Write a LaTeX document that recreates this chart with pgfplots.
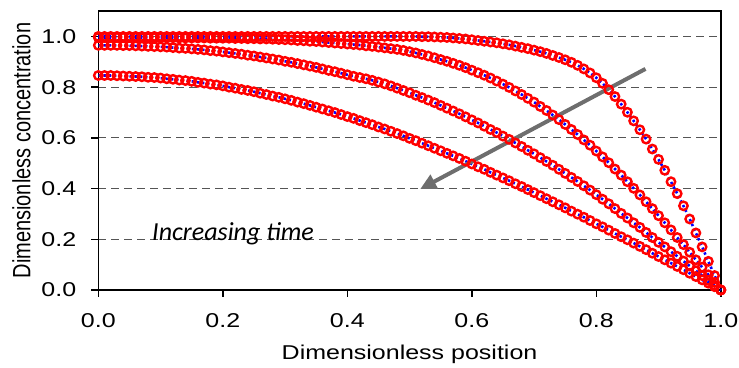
\documentclass[border=0pt]{standalone}
\usepackage{pgfplots}
\pgfplotsset{compat=1.18}
\usepackage{pgfplotstable}
\usepackage{fontspec}
\setmainfont{Liberation Sans}
\newfontfamily\carlito{Carlito}
\usetikzlibrary{arrows.meta}
\definecolor{arrowgray}{RGB}{110,110,110}
\definecolor{gridgray}{RGB}{85,85,85}

\pgfplotstableread{
x c1 c2 c3 c4
0.00 1.000 0.996 0.965 0.846
0.01 1.000 0.996 0.965 0.846
0.02 1.000 0.996 0.965 0.846
0.03 1.000 0.996 0.965 0.845
0.04 1.000 0.996 0.964 0.844
0.05 1.000 0.996 0.964 0.843
0.06 1.000 0.996 0.963 0.842
0.07 1.000 0.995 0.962 0.841
0.08 1.000 0.995 0.961 0.839
0.09 1.000 0.995 0.960 0.838
0.10 1.000 0.995 0.959 0.836
0.11 1.000 0.995 0.958 0.833
0.12 1.000 0.995 0.956 0.831
0.13 1.000 0.994 0.954 0.828
0.14 1.000 0.994 0.953 0.826
0.15 1.000 0.994 0.951 0.823
0.16 1.000 0.994 0.949 0.819
0.17 1.000 0.994 0.947 0.816
0.18 1.000 0.993 0.944 0.812
0.19 1.000 0.993 0.942 0.809
0.20 1.000 0.993 0.939 0.805
0.21 1.000 0.993 0.936 0.800
0.22 1.000 0.992 0.933 0.796
0.23 1.000 0.992 0.930 0.791
0.24 1.000 0.991 0.926 0.787
0.25 1.000 0.991 0.923 0.782
0.26 1.000 0.990 0.919 0.776
0.27 1.000 0.990 0.915 0.771
0.28 1.000 0.989 0.911 0.765
0.29 1.000 0.988 0.907 0.760
0.30 1.000 0.987 0.902 0.754
0.31 1.000 0.986 0.898 0.748
0.32 1.000 0.984 0.893 0.741
0.33 1.000 0.983 0.888 0.735
0.34 1.000 0.981 0.883 0.728
0.35 1.000 0.980 0.878 0.721
0.36 1.000 0.978 0.872 0.714
0.37 1.000 0.976 0.866 0.707
0.38 1.000 0.974 0.861 0.700
0.39 1.000 0.972 0.855 0.692
0.40 1.000 0.970 0.849 0.684
0.41 1.000 0.968 0.843 0.677
0.42 1.000 0.966 0.838 0.668
0.43 1.000 0.963 0.833 0.660
0.44 1.000 0.961 0.827 0.652
0.45 1.000 0.958 0.820 0.643
0.46 1.000 0.955 0.813 0.635
0.47 1.000 0.952 0.805 0.626
0.48 1.000 0.949 0.796 0.617
0.49 1.000 0.945 0.787 0.608
0.50 1.000 0.940 0.778 0.598
0.51 1.000 0.935 0.768 0.589
0.52 0.999 0.929 0.759 0.579
0.53 0.999 0.923 0.749 0.569
0.54 0.998 0.916 0.739 0.559
0.55 0.997 0.909 0.728 0.549
0.56 0.996 0.902 0.717 0.539
0.57 0.994 0.894 0.706 0.529
0.58 0.992 0.886 0.695 0.519
0.59 0.990 0.877 0.683 0.508
0.60 0.987 0.867 0.671 0.497
0.61 0.984 0.857 0.659 0.486
0.62 0.981 0.847 0.646 0.476
0.63 0.978 0.836 0.633 0.464
0.64 0.975 0.824 0.621 0.453
0.65 0.971 0.812 0.607 0.442
0.66 0.967 0.799 0.594 0.431
0.67 0.962 0.785 0.580 0.419
0.68 0.957 0.771 0.566 0.408
0.69 0.952 0.756 0.551 0.396
0.70 0.946 0.741 0.537 0.384
0.71 0.940 0.724 0.522 0.372
0.72 0.933 0.708 0.507 0.360
0.73 0.925 0.690 0.492 0.348
0.74 0.917 0.672 0.476 0.336
0.75 0.908 0.653 0.460 0.324
0.76 0.898 0.633 0.444 0.311
0.77 0.886 0.613 0.428 0.299
0.78 0.872 0.592 0.411 0.287
0.79 0.856 0.571 0.394 0.274
0.80 0.837 0.548 0.376 0.261
0.81 0.815 0.525 0.358 0.249
0.82 0.790 0.502 0.340 0.236
0.83 0.763 0.477 0.321 0.223
0.84 0.733 0.453 0.302 0.210
0.85 0.701 0.427 0.284 0.198
0.86 0.667 0.401 0.265 0.185
0.87 0.632 0.375 0.247 0.172
0.88 0.595 0.348 0.227 0.159
0.89 0.556 0.321 0.207 0.145
0.90 0.515 0.293 0.188 0.132
0.91 0.472 0.265 0.170 0.119
0.92 0.427 0.237 0.151 0.106
0.93 0.380 0.207 0.133 0.093
0.94 0.332 0.179 0.114 0.080
0.95 0.280 0.149 0.095 0.066
0.96 0.225 0.119 0.076 0.053
0.97 0.170 0.090 0.057 0.040
0.98 0.113 0.060 0.038 0.027
0.99 0.057 0.030 0.019 0.013
1.00 0.000 0.000 0.000 0.000
}\data

\begin{document}
\begin{tikzpicture}
\begin{axis}[
  scale only axis,
  width=311.25pt, height=139.45pt,
  xmin=0, xmax=1, ymin=0, ymax=1.1,
  xtick={0,0.2,0.4,0.6,0.8,1},
  ytick={0,0.2,0.4,0.6,0.8,1},
  tick align=outside, tick pos=left,
  major tick length=3.5pt,
  tick style={black, line width=0.7pt},
  axis line style={line width=0.7pt},
  ymajorgrids,
  grid style={gridgray, line width=0.6pt, dash pattern=on 4pt off 2.5pt},
  clip=false,
  xticklabel style={xscale=1.25, yshift=-4.5pt, /pgf/number format/fixed, /pgf/number format/fixed zerofill, /pgf/number format/precision=1, /pgf/number format/assume math mode=true},
  yticklabel style={xscale=1.25, xshift=-2.5pt, /pgf/number format/fixed, /pgf/number format/fixed zerofill, /pgf/number format/precision=1, /pgf/number format/assume math mode=true},
  xlabel={Dimensionless position},
  ylabel={Dimensionless concentration},
  xlabel style={at={(axis description cs:0.5,-0.2506)}, anchor=base, inner sep=0pt, xscale=1.25},
  ylabel style={at={(axis description cs:-0.109,0.5)}, anchor=base, inner sep=0pt, yscale=1.25},
  font=\fontsize{10}{12}\selectfont,
]
\addplot[only marks, mark=o, red, mark size=2.1pt, mark options={line width=1.2pt}] table[x=x,y=c1]{\data};
\addplot[only marks, mark=o, red, mark size=2.1pt, mark options={line width=1.2pt}] table[x=x,y=c2]{\data};
\addplot[only marks, mark=o, red, mark size=2.1pt, mark options={line width=1.2pt}] table[x=x,y=c3]{\data};
\addplot[only marks, mark=o, red, mark size=2.1pt, mark options={line width=1.2pt}] table[x=x,y=c4]{\data};
\addplot[blue, no marks, line width=1.3pt, dash pattern=on 1.2pt off 1.4pt] table[x=x,y=c1]{\data};
\addplot[blue, no marks, line width=1.3pt, dash pattern=on 1.2pt off 1.4pt] table[x=x,y=c2]{\data};
\addplot[blue, no marks, line width=1.3pt, dash pattern=on 1.2pt off 1.4pt] table[x=x,y=c3]{\data};
\addplot[blue, no marks, line width=1.3pt, dash pattern=on 1.2pt off 1.4pt] table[x=x,y=c4]{\data};
\draw[arrowgray, line width=2pt, -{Triangle[length=8pt,width=7.5pt]}] (axis cs:0.879,0.872) -- (axis cs:0.517,0.398);
\node[anchor=base west, inner sep=0pt, font=\carlito\itshape\fontsize{13}{15}\selectfont] at (axis cs:0.086,0.197) {Increasing time};
\end{axis}
\pgfresetboundingbox
\path[use as bounding box] ([xshift=-49.15pt,yshift=-39pt]current axis.south west) rectangle ([xshift=9.1pt,yshift=5.55pt]current axis.north east);
\end{tikzpicture}
\end{document}
